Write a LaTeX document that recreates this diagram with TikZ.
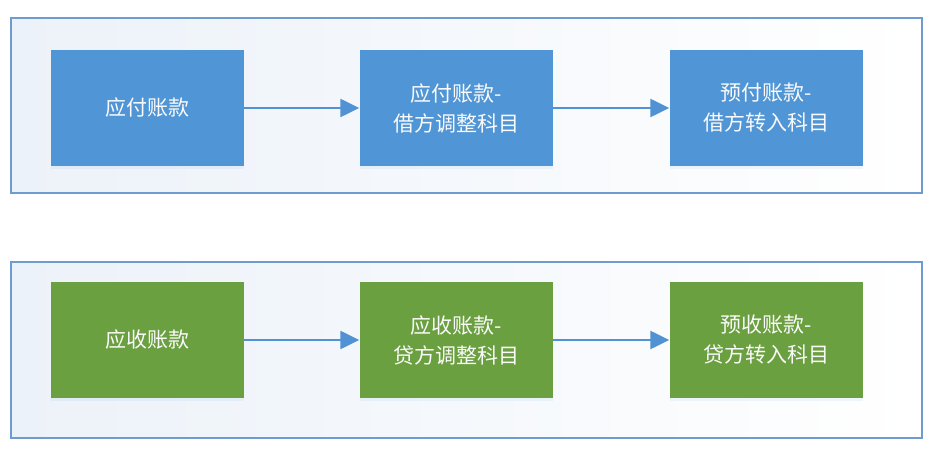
\documentclass[tikz,border=0pt]{standalone}
\usepackage{fontspec}
\usepackage{xcolor}
\usepackage{tikz}
\usetikzlibrary{arrows.meta, positioning, shadows}
\newfontfamily\cjk{Noto Sans CJK SC}
\definecolor{payblue}{RGB}{80, 149, 213}
\definecolor{recgreen}{RGB}{106, 160, 64}
\definecolor{panelline}{RGB}{110, 155, 208}
\definecolor{panelfill}{RGB}{236, 242, 249}
\definecolor{arrowblue}{RGB}{80, 146, 212}

\begin{document}
\begin{tikzpicture}[
    x=1pt, y=-1pt,
    panel/.style={draw=panelline, line width=2pt, left color=panelfill, right color=white, minimum width=911pt, minimum height=175pt, inner sep=0pt},
    acct/.style={draw=none, minimum width=193pt, minimum height=116pt, align=center, font=\cjk\fontsize{21}{30}\selectfont, text=white!96!gray, drop shadow={shadow xshift=0pt, shadow yshift=-3pt, opacity=0.08, fill=payblue}},
    paybox/.style={acct, fill=payblue},
    recbox/.style={acct, fill=recgreen},
    arrow/.style={-{Triangle[length=19pt, width=18pt]}, line width=2.4pt, draw=arrowblue}
]
\useasboundingbox (0,0) rectangle (940,454);

% Panels
\node[panel] (toppanel) at (466,105.5) {};
\node[panel] (botpanel) at (466,350) {};

% Payables
\node[paybox] (pay) at (147.5,108) {应付账款};
\node[paybox] (payadj) at (456,108) {应付账款-\\借方调整科目};
\node[paybox] (prepay) at (766,108) {预付账款-\\借方转入科目};

% Receivables
\node[recbox] (rec) at (147.5,340) {应收账款};
\node[recbox] (recadj) at (456,340) {应收账款-\\贷方调整科目};
\node[recbox] (prerec) at (766,340) {预收账款-\\贷方转入科目};

% Arrows
\draw[arrow] (pay) -- (payadj);
\draw[arrow] (payadj) -- (prepay);
\draw[arrow] (rec) -- (recadj);
\draw[arrow] (recadj) -- (prerec);

\end{tikzpicture}
\end{document}
